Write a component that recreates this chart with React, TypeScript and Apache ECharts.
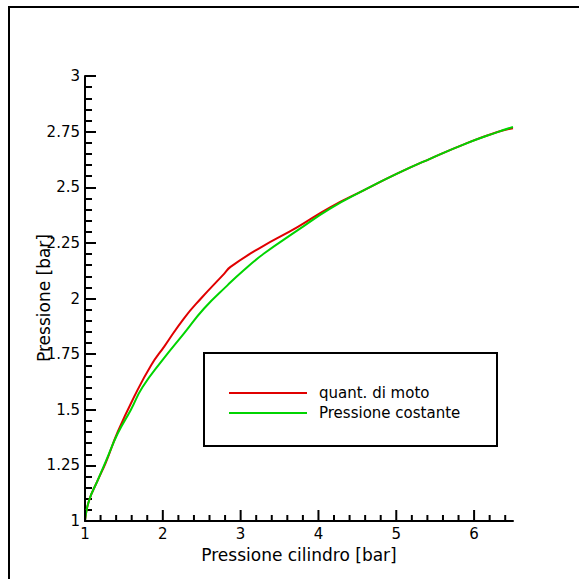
import React, { useEffect, useRef } from "react";
import * as echarts from "echarts";

const redX = [1, 1.05, 1.16, 1.27, 1.42, 1.63, 1.85, 2.02, 2.27, 2.49, 2.79, 2.87, 3.25, 3.73, 4.15, 4.58, 5.01, 5.44, 5.87, 6.3, 6.5];
const redY = [1, 1.09, 1.18, 1.265, 1.4, 1.557, 1.7, 1.785, 1.91, 2.0, 2.112, 2.142, 2.228, 2.321, 2.41, 2.486, 2.561, 2.629, 2.693, 2.748, 2.765];

const greenX = [1, 1.05, 1.16, 1.27, 1.42, 1.59, 1.74, 2.0, 2.27, 2.53, 2.83, 3.04, 3.3, 3.73, 4.15, 4.58, 5.01, 5.44, 5.87, 6.3, 6.5];
const greenY = [1, 1.09, 1.18, 1.27, 1.393, 1.5, 1.602, 1.725, 1.842, 1.955, 2.059, 2.127, 2.202, 2.306, 2.404, 2.486, 2.561, 2.629, 2.693, 2.748, 2.771];

const xMajorTicks = [1, 2, 3, 4, 5, 6];
const xMinorTicks = [1.2, 1.4, 1.6, 1.8, 2.2, 2.4, 2.6, 2.8, 3.2, 3.4, 3.6, 3.8, 4.2, 4.4, 4.6, 4.8, 5.2, 5.4, 5.6, 5.8, 6.2, 6.4];

const seriesNames = ["quant. di moto", "Pressione costante"];
const xTitle = "Pressione cilindro [bar]";
const yTitle = "Pressione [bar]";

const RED = "#e00000";
const GREEN = "#00d400";
const FONT = "DejaVu Sans";

export default function App() {
  const ref = useRef<HTMLDivElement>(null);
  useEffect(() => {
    const chart = echarts.init(ref.current!, null, { renderer: "svg" });
    const redData = redX.map((x, i) => [x, redY[i]]);
    const greenData = greenX.map((x, i) => [x, greenY[i]]);
    const staticGraphics: any[] = [
      { type: "rect", shape: { x: 9, y: 7, width: 640, height: 640 }, style: { fill: "none", stroke: "#000", lineWidth: 2 } },
      { type: "rect", shape: { x: 204, y: 353, width: 293, height: 93 }, style: { fill: "none", stroke: "#000", lineWidth: 2 } },
      { type: "line", shape: { x1: 229, y1: 393, x2: 307, y2: 393 }, style: { stroke: RED, lineWidth: 2 } },
      { type: "line", shape: { x1: 229, y1: 413, x2: 307, y2: 413 }, style: { stroke: GREEN, lineWidth: 2 } },
      { type: "text", x: 319, y: 393, style: { text: seriesNames[0], font: `15px "${FONT}"`, fill: "#000", textAlign: "left", textVerticalAlign: "middle" } },
      { type: "text", x: 319, y: 413, style: { text: seriesNames[1], font: `15px "${FONT}"`, fill: "#000", textAlign: "left", textVerticalAlign: "middle" } },
      { type: "text", x: 299, y: 555, style: { text: xTitle, font: `17px "${FONT}"`, fill: "#000", textAlign: "center", textVerticalAlign: "middle" } },
      { type: "text", x: 44, y: 298, rotation: Math.PI / 2, style: { text: yTitle, font: `17px "${FONT}"`, fill: "#000", textAlign: "center", textVerticalAlign: "middle" } },
    ];
    chart.setOption({
      animation: false,
      backgroundColor: "#fff",
      grid: { left: 85, right: 66, top: 76, bottom: 58 },
      xAxis: {
        type: "value",
        min: 1,
        max: 6.5,
        interval: 1,
        axisLine: { show: true, onZero: false, lineStyle: { color: "#000", width: 2 } },
        axisTick: { show: false },
        axisLabel: { showMaxLabel: false, color: "#000", fontSize: 15, fontFamily: FONT, margin: 5 },
        splitLine: { show: false },
      },
      yAxis: {
        type: "value",
        min: 1,
        max: 3,
        interval: 0.25,
        axisLine: { show: true, onZero: false, lineStyle: { color: "#000", width: 2 } },
        axisTick: { show: true, inside: true, length: 11, lineStyle: { color: "#000", width: 2 } },
        minorTick: { show: true, splitNumber: 5, length: 7, lineStyle: { color: "#000", width: 2 } },
        axisLabel: { color: "#000", fontSize: 15, fontFamily: FONT, margin: 5 },
        splitLine: { show: false },
      },
      series: [
        {
          type: "line",
          name: seriesNames[0],
          data: redData,
          symbol: "none",
          smooth: 0.5,
          lineStyle: { color: RED, width: 2 },
        },
        {
          type: "line",
          name: seriesNames[1],
          data: greenData,
          symbol: "none",
          smooth: 0.5,
          lineStyle: { color: GREEN, width: 2 },
        },
      ],
      graphic: staticGraphics,
    });
    try {
      const tickLines: any[] = [];
      const addTicks = (vals: number[], len: number) => {
        vals.forEach((v) => {
          const p = chart.convertToPixel({ xAxisIndex: 0, yAxisIndex: 0 }, [v, 1]) as number[];
          if (!p || !isFinite(p[0]) || !isFinite(p[1])) throw new Error("bad pixel");
          tickLines.push({
            type: "line",
            shape: { x1: p[0], y1: p[1], x2: p[0], y2: p[1] - len },
            style: { stroke: "#000", lineWidth: 2 },
            z: 10,
          });
        });
      };
      addTicks(xMajorTicks, 11);
      addTicks(xMinorTicks, 6);
      chart.setOption({ graphic: staticGraphics.concat(tickLines) });
    } catch (e) {
      chart.setOption({
        xAxis: {
          axisTick: { show: true, inside: true, length: 11, lineStyle: { color: "#000", width: 2 } },
          minorTick: { show: true, splitNumber: 5, length: 6, lineStyle: { color: "#000", width: 2 } },
        },
      });
    }
    return () => chart.dispose();
  }, []);
  return (
    <div
      ref={ref}
      style={{ position: "fixed", left: 0, top: 0, width: 579, height: 579, background: "#fff" }}
    />
  );
}
